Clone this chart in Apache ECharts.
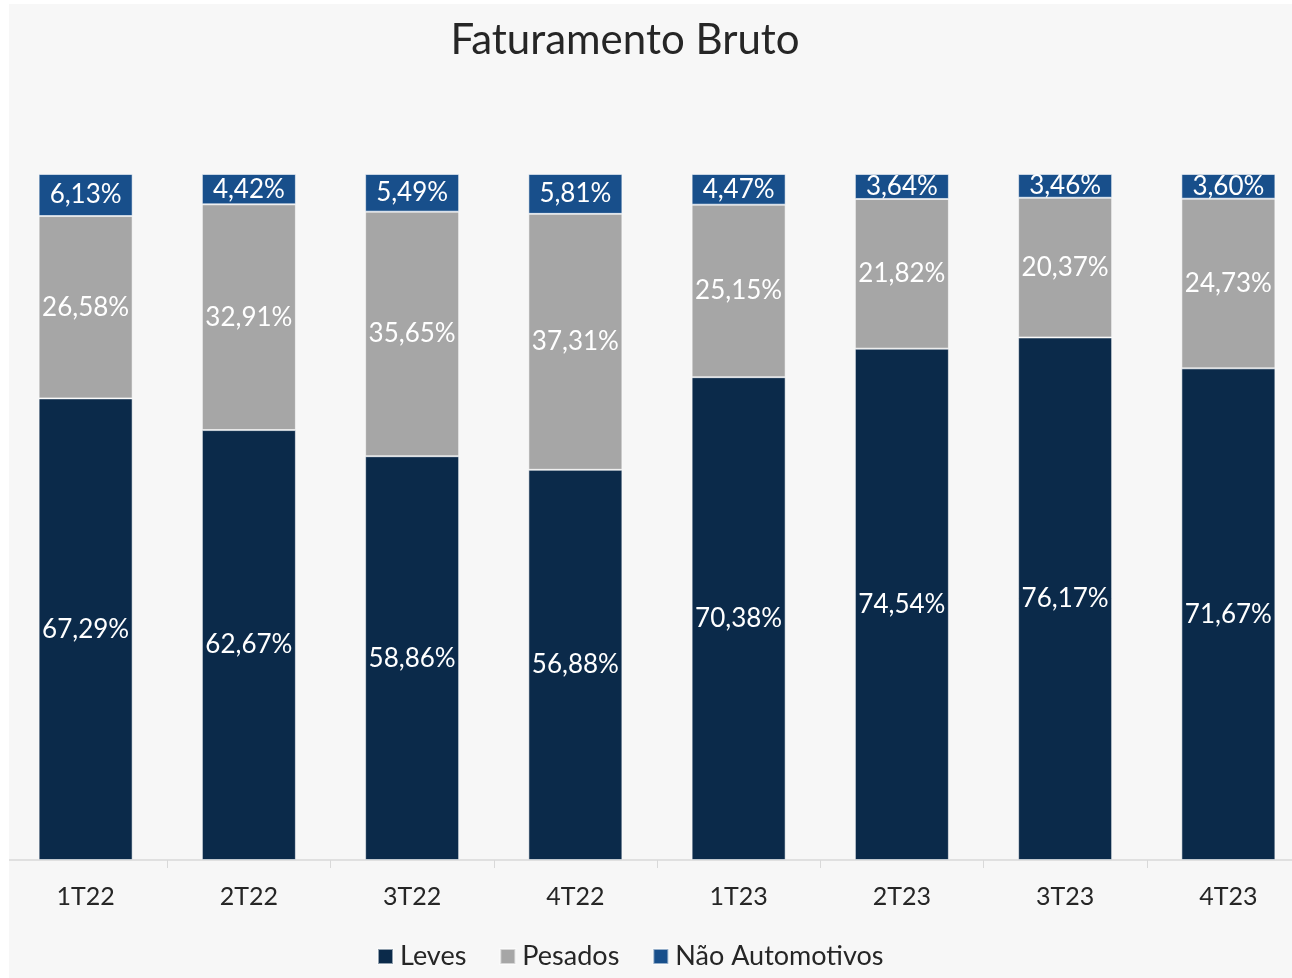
<!DOCTYPE html>
<html>
<head>
<meta charset="utf-8">
<script src="https://cdn.jsdelivr.net/npm/echarts@6/dist/echarts.min.js"></script>
<style>
	html, body { margin: 0; padding: 0; background: #ffffff; overflow: hidden; }
	#chart { width: 1310px; height: 978px; }
</style>
</head>
<body>
<div id="chart"></div>
<script>
var categorias = ["1T22", "2T22", "3T22", "4T22", "1T23", "2T23", "3T23", "4T23"];
var leves = [67.29, 62.67, 58.86, 56.88, 70.38, 74.54, 76.17, 71.67];
var pesados = [26.58, 32.91, 35.65, 37.31, 25.15, 21.82, 20.37, 24.73];
var naoAuto = [6.13, 4.42, 5.49, 5.81, 4.47, 3.64, 3.46, 3.60];

var fonte = "Lato, 'Open Sans', sans-serif";

function rotulo(p) {
	return p.value.toFixed(2).replace(".", ",") + "%";
}

function serie(nome, dados, cor) {
	return {
		name: nome,
		type: "bar",
		stack: "total",
		barWidth: 94,
		data: dados,
		itemStyle: {
			color: cor,
			borderColor: "rgba(255,255,255,0.55)",
			borderWidth: 1
		},
		label: {
			show: true,
			position: "inside",
			color: "#ffffff",
			fontFamily: fonte,
			fontSize: 26,
			formatter: rotulo
		}
	};
}

var myChart = echarts.init(document.getElementById("chart"));
var option = {
	backgroundColor: "#f7f7f7",
	animation: false,
	title: {
		text: "Faturamento Bruto",
		left: 620,
		textAlign: "center",
		top: 14,
		textStyle: {
			fontFamily: fonte,
			fontSize: 42,
			fontWeight: "normal",
			color: "#262626"
		}
	},
	legend: {
		left: 372,
		top: 938,
		itemWidth: 15,
		itemHeight: 15,
		itemGap: 33,
		icon: "rect",
		textStyle: {
			fontFamily: fonte,
			fontSize: 27,
			color: "#262626",
			padding: [0, 0, 0, 2]
		},
		data: ["Leves", "Pesados", "Não Automotivos"]
	},
	grid: {
		left: 4,
		right: 0,
		top: 174,
		bottom: 118
	},
	xAxis: {
		type: "category",
		data: categorias,
		axisLine: { lineStyle: { color: "#d9d9d9", width: 1.5 } },
		axisTick: { show: true, length: 8, lineStyle: { color: "#d9d9d9" } },
		axisLabel: {
			fontFamily: fonte,
			fontSize: 25,
			color: "#262626",
			margin: 24
		}
	},
	yAxis: {
		type: "value",
		min: 0,
		max: 100,
		show: false
	},
	graphic: [
		{ type: "rect", left: 0, top: 0, z: 100, shape: { width: 9, height: 978 }, style: { fill: "#ffffff" } },
		{ type: "rect", left: 0, top: 0, z: 100, shape: { width: 1310, height: 4 }, style: { fill: "#ffffff" } }
	],
	series: [
		serie("Leves", leves, "#0b2a4a"),
		serie("Pesados", pesados, "#a6a6a6"),
		serie("Não Automotivos", naoAuto, "#184f8b")
	]
};
myChart.setOption(option);
</script>
</body>
</html>
